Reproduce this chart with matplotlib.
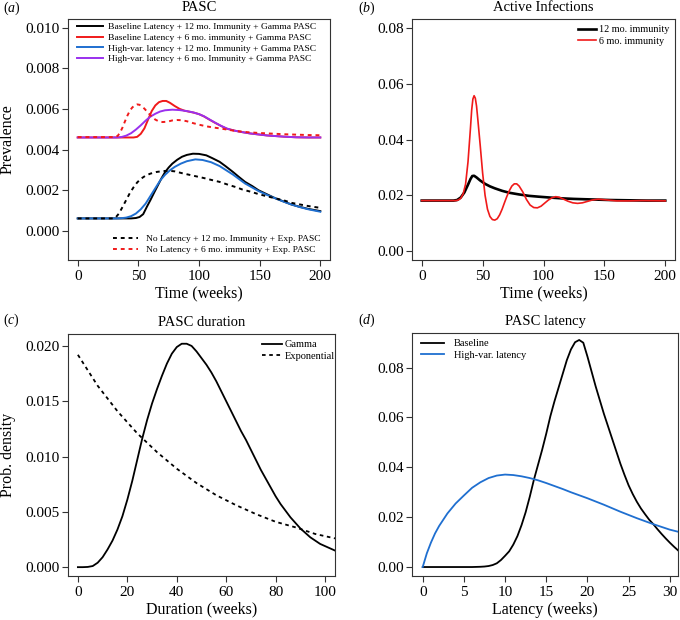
import numpy as np
import matplotlib
matplotlib.use("Agg")
import matplotlib.pyplot as plt

plt.rcParams['font.family'] = ['Liberation Serif', 'DejaVu Serif']
plt.rcParams['mathtext.fontset'] = 'custom'
plt.rcParams['mathtext.it'] = 'Liberation Serif:italic'
plt.rcParams['mathtext.rm'] = 'Liberation Serif'

RED = '#f01a1a'
BLUE = '#1f6fd0'
PURPLE = '#9a30ee'

# ---- panel (a): PASC prevalence ----
base12_t = [0, 44, 48, 51, 54, 57, 60, 63, 66, 69, 72, 75, 78, 82, 86, 90, 95, 100, 106, 111, 117,
            122, 128, 133, 138, 144, 149, 156, 163, 170, 176, 183, 190, 200]
base12_v = [.00061, .00061, .00063, .00068, .00082, .00118, .00152, .00188, .00223, .00258, .00289,
            .00312, .00331, .00350, .00365, .00374, .00380, .00379, .00372, .00358, .00340,
            .00318, .00290, .00265, .00241, .00220, .00200, .00180, .00160, .00144, .00130,
            .00118, .00108, .00097]

hv12_t = [0, 32, 36, 40, 44, 48, 52, 56, 60, 64, 68, 72, 76, 80, 85, 90, 97, 103, 110, 117, 122,
          128, 133, 138, 144, 149, 156, 163, 170, 176, 183, 190, 200]
hv12_v = [.00061, .00061, .00062, .00065, .00072, .00085, .00106, .00134, .00172, .00210, .00248,
          .00276, .00298, .00315, .00331, .00343, .00352, .00349, .00338, .00319, .00300, .00277,
          .00255, .00233, .00213, .00196, .00177, .00160, .00143, .00130, .00117, .00106, .00094]

nl12_t = [0, 28, 31, 34, 37, 40, 43, 46, 49, 52, 56, 60, 65, 70, 75, 80, 86, 92, 98, 104, 110, 117,
          124, 130, 136, 143, 149, 156, 163, 170, 176, 183, 190, 200]
nl12_v = [.00061, .00061, .00064, .00085, .00118, .00152, .00186, .00214, .00238, .00256, .00272,
          .00282, .00290, .00294, .00296, .00293, .00284, .00276, .00268, .00260, .00251, .00241,
          .00227, .00216, .00203, .00192, .00181, .00170, .00160, .00150, .00138, .00130, .00122,
          .00113]

base6_t = [0, 46, 49, 52, 55, 58, 61, 64, 67, 70, 73, 76, 80, 84, 88, 92, 96, 100, 104, 108, 113,
           118, 123, 129, 135, 142, 149, 156, 163, 170, 180, 190, 200]
base6_v = [.0046, .0046, .00463, .00478, .00505, .00548, .00590, .00618, .00634, .00640, .00640,
           .00631, .00615, .00601, .00592, .00587, .00582, .00575, .00564, .00550, .00533, .00517,
           .00503, .00494, .00487, .00480, .00475, .00470, .00467, .00464, .00461, .0046, .0046]

hv6_t = [0, 32, 36, 40, 44, 48, 52, 56, 60, 64, 68, 72, 78, 84, 90, 95, 100, 104, 108, 113, 118,
         123, 129, 135, 142, 149, 156, 163, 170, 180, 190, 200]
hv6_v = [.0046, .0046, .00462, .00469, .00481, .00499, .00520, .00543, .00563, .00577, .00588,
         .00594, .00597, .00595, .00590, .00584, .00575, .00565, .00551, .00534, .00518, .00504,
         .00494, .00487, .00480, .00475, .00470, .00467, .00464, .00461, .0046, .0046]

nl6_t = [0, 31, 33, 35, 37, 39, 41, 43, 45, 47, 49, 51, 53, 55, 58, 61, 64, 67, 70, 74, 78, 82, 86,
         90, 95, 100, 106, 112, 118, 125, 132, 140, 150, 160, 170, 180, 190, 200]
nl6_v = [.00462, .00462, .00468, .00485, .00510, .00540, .00568, .00592, .00608, .00618, .00623,
         .00621, .00613, .00602, .00582, .00563, .00548, .00539, .00536, .00538, .00544, .00546,
         .00545, .00540, .00531, .00523, .00515, .00509, .00504, .00497, .00491, .00486, .00482,
         .00479, .00476, .00474, .00472, .00471]

# ---- panel (b): active infections ----
inf12_t = [0, 26, 29, 32, 35, 38, 40, 41.5, 43, 45, 48, 52, 56, 60, 66, 72, 80, 88, 96, 105, 115,
           125, 140, 155, 170, 185, 200]
inf12_v = [.0181, .0181, .0183, .0192, .0210, .0238, .0258, .0269, .0270, .0264, .0253, .0241,
           .0232, .0225, .0216, .0209, .0203, .0198, .0195, .0192, .0189, .0187, .0185, .0183,
           .0182, .0181, .0181]

inf6_t = [0, 28, 30, 32, 34, 36, 38, 40, 41, 42, 43, 44, 45, 46, 48, 50, 52, 54, 56, 58, 60, 62,
          64, 66, 68, 70, 72, 74, 76, 78, 80, 83, 86, 89, 92, 95, 98, 101, 104, 107, 110, 113, 116,
          120, 124, 128, 132, 136, 140, 145, 150, 160, 170, 180, 200]
inf6_v = [.0181, .0181, .0183, .0189, .0205, .0240, .0320, .0440, .0505, .0545, .0557, .0548,
          .0520, .0475, .0380, .0280, .0200, .0150, .0124, .0113, .0111, .0116, .0130, .0150,
          .0174, .0197, .0217, .0233, .0241, .0241, .0233, .0212, .0185, .0165, .0156, .0155,
          .0161, .0172, .0183, .0191, .0195, .0193, .0187, .0179, .0173, .0171, .0173, .0178,
          .0183, .0186, .0184, .0180, .0180, .0181, .0180]

# ---- panel (c): PASC duration densities ----
gam_d = [0, 2, 4, 6, 8, 10, 12, 14, 16, 18, 20, 22, 24, 26, 28, 30, 32, 34, 36, 38, 40, 42, 43,
         44, 46, 48, 50, 52, 54, 56, 58, 60, 62, 64, 66, 68, 70, 72, 74, 76, 78, 80, 82, 84, 86,
         88, 90, 92, 94, 96, 98, 100, 102, 104]
gam_v = [0, 0, .00002, .0001, .0004, .0009, .0016, .0024, .0034, .0046, .0061, .0078, .0097,
         .0116, .0133, .0148, .0161, .0173, .0184, .0193, .0199, .0202, .0202, .0202, .0200,
         .0195, .0189, .0183, .0176, .0168, .0159, .0150, .0141, .0132, .0123, .0115, .0106,
         .0097, .0088, .0080, .0072, .0064, .0057, .0051, .0045, .0040, .0035, .0031, .0027,
         .0024, .0021, .0019, .0017, .0015]
exp_d = [0, 8, 16, 24, 32, 40, 48, 56, 64, 72, 80, 88, 96, 104]
exp_v = [.0192, .0164, .0141, .0121, .0104, .0089, .0076, .0065, .0056, .0048, .0041, .0036,
         .0030, .0026]

# ---- panel (d): PASC latency densities ----
lat_base_w = [0, 6, 7, 7.5, 8, 8.5, 9, 9.5, 10, 10.5, 11, 11.5, 12, 12.5, 13, 13.5, 14, 14.5, 15,
              15.5, 16, 16.5, 17, 17.5, 18, 18.5, 19, 19.5, 20, 20.5, 21, 21.5, 22, 22.5, 23,
              23.5, 24, 24.5, 25, 25.5, 26, 26.5, 27, 27.5, 28, 28.5, 29, 29.5, 30, 30.5, 31]
lat_base_v = [0, 0, .0001, .0002, .0004, .0008, .0015, .0028, .0045, .0063, .0090, .0124, .0168,
              .0220, .0282, .0350, .0410, .0470, .0535, .0605, .0665, .0720, .0775, .0830,
              .0873, .0902, .0911, .0900, .0845, .0785, .0725, .0670, .0615, .0565, .0515,
              .0465, .0415, .0370, .0328, .0293, .0262, .0235, .0212, .0190, .0172, .0152,
              .0133, .0115, .0098, .0082, .0067]
lat_hv_w = [0, 0.5, 1, 1.5, 2, 3, 4, 5, 6, 7, 8, 9, 10, 11, 12, 13, 14, 15, 16, 17, 18, 19, 20, 21,
            22, 23, 24, 25, 26, 27, 28, 29, 30, 31.2]
lat_hv_v = [0, .0055, .0098, .0135, .0165, .0215, .0255, .0287, .0318, .0340, .0357, .0367, .0371,
            .0369, .0364, .0357, .0348, .0337, .0325, .0313, .0300, .0288, .0276, .0263, .0250,
            .0236, .0222, .0209, .0196, .0184, .0172, .0161, .0150, .0140]


def style_axes(ax):
    for s in ax.spines.values():
        s.set_linewidth(0.8)
        s.set_color('#333333')
    ax.tick_params(direction='out', length=4, width=0.8, color='#333333',
                   labelsize=11, pad=2)
    ax.tick_params(axis='x', pad=3)


W, H = 680, 620
fig = plt.figure(figsize=(6.8, 6.2), dpi=100)


def px_axes(l, r, t, b):
    return fig.add_axes([l / W, 1 - b / H, (r - l) / W, (b - t) / H])


# (a)
ax = px_axes(68, 330, 19, 260)
style_axes(ax)
h1, = ax.plot(base12_t, base12_v, color='black', lw=1.4)
h2, = ax.plot(base6_t, base6_v, color=RED, lw=1.4)
h3, = ax.plot(hv12_t, hv12_v, color=BLUE, lw=1.4)
h4, = ax.plot(hv6_t, hv6_v, color=PURPLE, lw=1.4)
h5, = ax.plot(nl12_t, nl12_v, color='black', lw=1.4, ls=(0, (2, 2)))
h6, = ax.plot(nl6_t, nl6_v, color=RED, lw=1.4, ls=(0, (2, 2)))
ax.set_xlim(-8, 208)
ax.set_ylim(-0.00144, 0.01044)
ax.set_xticks([0, 50, 100, 150, 200])
ax.set_yticks([0, 0.002, 0.004, 0.006, 0.008, 0.010])
ax.set_yticklabels(['0.000', '0.002', '0.004', '0.006', '0.008', '0.010'])
ax.set_xlabel('Time (weeks)', fontsize=11.5, labelpad=2)
ax.set_ylabel('Prevalence', fontsize=11.5, labelpad=7)
ax.set_title('PASC', fontsize=10.5, pad=6)
leg1 = ax.legend([h1, h2, h3, h4],
                 ['Baseline Latency + 12 mo. Immunity + Gamma PASC',
                  'Baseline Latency + 6 mo. immunity + Gamma PASC',
                  'High-var. latency + 12 mo. Immunity + Gamma PASC',
                  'High-var. latency + 6 mo. Immunity + Gamma PASC'],
                 loc='upper left', bbox_to_anchor=(0.035, 0.985), frameon=False,
                 fontsize=6.8, handlelength=2.7, handletextpad=0.6, labelspacing=0.22,
                 borderaxespad=0, borderpad=0)
ax.add_artist(leg1)
ax.legend([h5, h6],
          ['No Latency + 12 mo. Immunity + Exp. PASC',
           'No Latency + 6 mo. immunity + Exp. PASC'],
          loc='lower left', bbox_to_anchor=(0.17, 0.025), frameon=False,
          fontsize=6.8, handlelength=2.7, handletextpad=0.8, labelspacing=0.22,
          borderaxespad=0, borderpad=0)

# (b)
ax = px_axes(412, 675, 19, 260)
style_axes(ax)
g1, = ax.plot(inf12_t, inf12_v, color='black', lw=1.9)
g2, = ax.plot(inf6_t, inf6_v, color=RED, lw=1.2)
ax.set_xlim(-8, 208)
ax.set_ylim(-0.0032, 0.0832)
ax.set_xticks([0, 50, 100, 150, 200])
ax.set_yticks([0, 0.02, 0.04, 0.06, 0.08])
ax.set_yticklabels(['0.00', '0.02', '0.04', '0.06', '0.08'])
ax.set_xlabel('Time (weeks)', fontsize=11.5, labelpad=2)
ax.set_title('Active Infections', fontsize=10.5, pad=6)
ax.legend([g1, g2], ['12 mo. immunity', '6 mo. immunity'], loc='upper left',
          bbox_to_anchor=(0.63, 0.975), frameon=False, fontsize=7.3, handlelength=1.8,
          handletextpad=0.3, labelspacing=0.25, borderaxespad=0, borderpad=0)

# (c)
ax = px_axes(68, 335, 334, 576)
style_axes(ax)
k1, = ax.plot(gam_d, gam_v, color='black', lw=1.3)
k2, = ax.plot(exp_d, exp_v, color='black', lw=1.3, ls=(0, (2, 2)))
ax.set_xlim(-4, 104)
ax.set_ylim(-0.0008, 0.02108)
ax.set_xticks([0, 20, 40, 60, 80, 100])
ax.set_yticks([0, 0.005, 0.010, 0.015, 0.020])
ax.set_yticklabels(['0.000', '0.005', '0.010', '0.015', '0.020'])
ax.set_xlabel('Duration (weeks)', fontsize=11.5, labelpad=2)
ax.set_ylabel('Prob. density', fontsize=11.5, labelpad=7)
ax.set_title('PASC duration', fontsize=10.5, pad=6)
ax.legend([k1, k2], ['Gamma', 'Exponential'], loc='upper right',
          bbox_to_anchor=(1.0, 0.975), frameon=False, fontsize=7.5, handlelength=1.9,
          handletextpad=0.25, labelspacing=0.2, borderaxespad=0, borderpad=0)

# (d)
ax = px_axes(412, 678, 333, 576)
style_axes(ax)
m1, = ax.plot(lat_base_w, lat_base_v, color='black', lw=1.3)
m2, = ax.plot(lat_hv_w, lat_hv_v, color=BLUE, lw=1.3)
ax.set_xlim(-1.3, 31.0)
ax.set_ylim(-0.0036, 0.0939)
ax.set_xticks([0, 5, 10, 15, 20, 25, 30])
ax.set_yticks([0, 0.02, 0.04, 0.06, 0.08])
ax.set_yticklabels(['0.00', '0.02', '0.04', '0.06', '0.08'])
ax.set_xlabel('Latency (weeks)', fontsize=11.5, labelpad=2)
ax.set_title('PASC latency', fontsize=10.5, pad=6)
ax.legend([m1, m2], ['Baseline', 'High-var. latency'], loc='upper left',
          bbox_to_anchor=(0.035, 0.975), frameon=False, fontsize=7.5, handlelength=2.2,
          handletextpad=0.9, labelspacing=0.2, borderaxespad=0, borderpad=0)

# panel letters
for x, y, s in [(3, 8, 'a'), (358, 8, 'b'), (3, 320, 'c'), (358, 320, 'd')]:
    fig.text(x / W, 1 - y / H, '($\\mathit{%s}$)' % s, fontsize=10, va='center', ha='left')

fig.savefig('out.png', dpi=100)
